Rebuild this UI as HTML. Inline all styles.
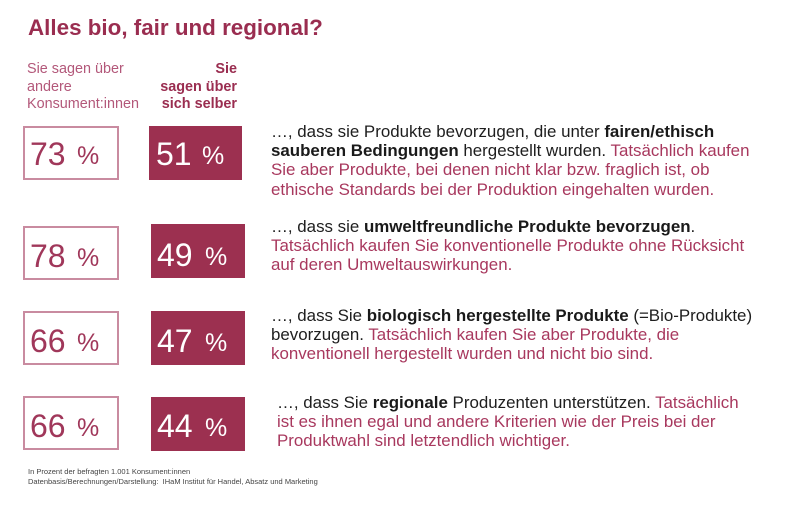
<!DOCTYPE html>
<html><head><meta charset="utf-8"><style>
html,body{margin:0;padding:0;background:#fff;}
body{width:800px;height:508px;position:relative;overflow:hidden;font-family:"Liberation Sans",Arial,sans-serif;}
.a{position:absolute;white-space:nowrap;}
.title{left:28px;top:15.2px;font-size:22.4px;line-height:26px;font-weight:bold;color:#9a2d50;}
.hl{left:27px;top:61.3px;font-size:14.4px;line-height:17.5px;color:#b3587a;}
.hr{left:107px;width:130px;text-align:right;top:61.3px;font-size:14.4px;line-height:17.5px;font-weight:bold;color:#9a2d50;}
.wb{position:absolute;box-sizing:border-box;border:2px solid #c98ba0;background:#fff;}
.fb{position:absolute;background:#9c3050;}
.d{position:absolute;font-size:32px;line-height:32px;white-space:nowrap;}
.p{position:absolute;font-size:25px;line-height:25px;white-space:nowrap;}
.w{color:#a0375a;}
.f{color:#fff;}
.t{position:absolute;font-size:16.9px;line-height:19.4px;white-space:nowrap;color:#1e1e1e;}
.t .k{color:#a8385e;}
.t b{color:#1a1a1a;}
.fn{left:28px;top:467px;font-size:7.5px;line-height:9.5px;color:#444;}
</style></head><body>
<div class="a title">Alles bio, fair und regional?</div>
<div class="a hl">Sie sagen über<br>andere<br>Konsument:innen</div>
<div class="a hr">Sie<br>sagen über<br>sich selber</div>

<!-- Row 1 -->
<div class="wb" style="left:23px;top:126px;width:96px;height:54px;"></div>
<div class="d w" style="left:30px;top:137.9px;">73</div>
<div class="p w" style="left:77px;top:143.8px;">%</div>
<div class="fb" style="left:149px;top:126px;width:93px;height:54px;"></div>
<div class="d f" style="left:156px;top:137.9px;">51</div>
<div class="p f" style="left:202px;top:143.8px;">%</div>

<!-- Row 2 -->
<div class="wb" style="left:23px;top:226px;width:96px;height:54px;"></div>
<div class="d w" style="left:30px;top:239.9px;">78</div>
<div class="p w" style="left:77px;top:245.8px;">%</div>
<div class="fb" style="left:151px;top:224px;width:94px;height:54px;"></div>
<div class="d f" style="left:157px;top:238.9px;">49</div>
<div class="p f" style="left:205px;top:244.8px;">%</div>

<!-- Row 3 -->
<div class="wb" style="left:23px;top:311px;width:96px;height:54px;"></div>
<div class="d w" style="left:30px;top:324.9px;">66</div>
<div class="p w" style="left:77px;top:330.8px;">%</div>
<div class="fb" style="left:151px;top:311px;width:94px;height:54px;"></div>
<div class="d f" style="left:157px;top:324.9px;">47</div>
<div class="p f" style="left:205px;top:330.8px;">%</div>

<!-- Row 4 -->
<div class="wb" style="left:23px;top:396px;width:96px;height:54px;"></div>
<div class="d w" style="left:30px;top:409.9px;">66</div>
<div class="p w" style="left:77px;top:415.8px;">%</div>
<div class="fb" style="left:151px;top:397px;width:94px;height:54px;"></div>
<div class="d f" style="left:157px;top:409.9px;">44</div>
<div class="p f" style="left:205px;top:415.8px;">%</div>

<div class="t" style="left:271px;top:121.5px;">…, dass sie Produkte bevorzugen, die unter <b>fairen/ethisch</b><br><b>sauberen Bedingungen</b> hergestellt wurden. <span class="k">Tatsächlich kaufen</span><br><span class="k">Sie aber Produkte, bei denen nicht klar bzw. fraglich ist, ob</span><br><span class="k">ethische Standards bei der Produktion eingehalten wurden.</span></div>

<div class="t" style="left:271px;top:216.5px;">…, dass sie <b>umweltfreundliche Produkte bevorzugen</b>.<br><span class="k">Tatsächlich kaufen Sie konventionelle Produkte ohne Rücksicht</span><br><span class="k">auf deren Umweltauswirkungen.</span></div>

<div class="t" style="left:271px;top:305.5px;">…, dass Sie <b>biologisch hergestellte Produkte</b> (=Bio-Produkte)<br>bevorzugen. <span class="k">Tatsächlich kaufen Sie aber Produkte, die</span><br><span class="k">konventionell hergestellt wurden und nicht bio sind.</span></div>

<div class="t" style="left:277px;top:392.5px;">…, dass Sie <b>regionale</b> Produzenten unterstützen. <span class="k">Tatsächlich</span><br><span class="k">ist es ihnen egal und andere Kriterien wie der Preis bei der</span><br><span class="k">Produktwahl sind letztendlich wichtiger.</span></div>

<div class="a fn">In Prozent der befragten 1.001 Konsument:innen<br>Datenbasis/Berechnungen/Darstellung:&nbsp; IHaM Institut für Handel, Absatz und Marketing</div>
</body></html>
